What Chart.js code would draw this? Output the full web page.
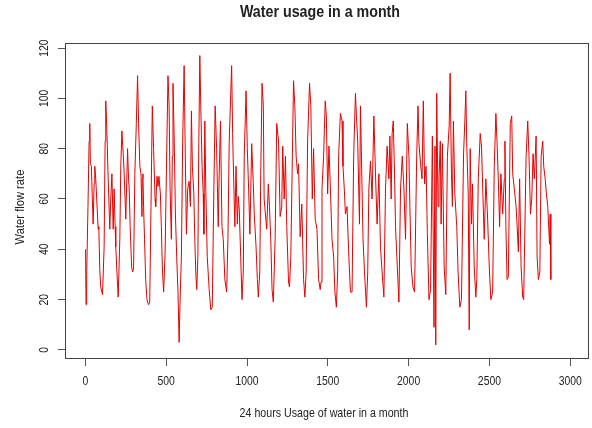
<!DOCTYPE html>
<html>
<head>
<meta charset="utf-8">
<title>Water usage in a month</title>
<script src="https://cdn.jsdelivr.net/npm/chart.js@4.4.1/dist/chart.umd.min.js"></script>
<style>
  html, body { margin: 0; padding: 0; background: #fff; }
  #wrap { width: 592px; height: 428px; }
</style>
</head>
<body>
<div id="wrap"><canvas id="waterChart" width="592" height="428"></canvas></div>
<script>
// sample number (15 min steps over the month) and the flow read at it
const sampleIndex = [
  1, 4, 8, 16, 23, 27, 31, 37, 43, 48, 54, 58, 64, 70, 79, 83, 89, 95,
  106, 116, 122, 126, 132, 141, 151, 157, 164, 172, 178, 184, 188, 195,
  203, 213, 219, 226, 234, 240, 250, 257, 261, 267, 271, 277, 286, 292,
  298, 306, 315, 323, 329, 337, 344, 350, 352, 356, 360, 366, 373, 381,
  391, 398, 406, 414, 422, 431, 435, 443, 449, 455, 464, 470, 476, 484,
  493, 501, 511, 518, 524, 532, 538, 542, 549, 557, 565, 573, 580, 586,
  594, 602, 611, 617, 625, 633, 642, 650, 656, 662, 671, 677, 683, 689,
  696, 702, 708, 714, 722, 729, 733, 739, 745, 754, 766, 776, 785, 795,
  803, 812, 822, 828, 836, 845, 853, 863, 874, 882, 890, 905, 911, 919,
  925, 932, 940, 946, 952, 961, 969, 977, 983, 994, 1002, 1010, 1018, 1029,
  1039, 1045, 1056, 1064, 1070, 1079, 1085, 1093, 1101, 1106, 1114, 1122, 1132, 1139,
  1147, 1155, 1163, 1174, 1184, 1195, 1205, 1215, 1221, 1230, 1238, 1246, 1257, 1263,
  1271, 1279, 1288, 1296, 1304, 1313, 1319, 1329, 1339, 1350, 1358, 1366, 1375, 1387,
  1395, 1404, 1412, 1422, 1433, 1443, 1453, 1458, 1464, 1474, 1484, 1491, 1499, 1507,
  1516, 1526, 1536, 1544, 1553, 1561, 1567, 1578, 1588, 1594, 1602, 1609, 1619, 1629,
  1640, 1650, 1660, 1671, 1677, 1685, 1696, 1702, 1712, 1718, 1727, 1739, 1747, 1754,
  1764, 1774, 1785, 1795, 1805, 1816, 1826, 1836, 1847, 1857, 1867, 1878, 1884, 1892,
  1898, 1905, 1913, 1919, 1930, 1940, 1950, 1961, 1971, 1981, 1992, 2002, 2008, 2016,
  2027, 2037, 2050, 2058, 2064, 2074, 2083, 2091, 2099, 2108, 2116, 2126, 2136, 2147,
  2157, 2163, 2168, 2174, 2182, 2188, 2196, 2201, 2209, 2220, 2230, 2240, 2251, 2257,
  2265, 2271, 2277, 2286, 2298, 2306, 2317, 2327, 2340, 2348, 2354, 2360, 2369, 2375,
  2381, 2389, 2395, 2406, 2416, 2422, 2431, 2443, 2451, 2460, 2468, 2478, 2489, 2499,
  2509, 2520, 2530, 2540, 2547, 2555, 2563, 2571, 2582, 2592, 2596, 2602, 2609, 2617,
  2629, 2638, 2644, 2654, 2665, 2671, 2679, 2687, 2696, 2706, 2712, 2727, 2737, 2745,
  2754, 2762, 2770, 2778, 2789, 2795, 2803, 2812, 2820, 2830, 2836, 2845, 2853, 2861,
  2872, 2876, 2880
];
const flowRate = [
  40, 18, 30, 57, 83, 90, 74, 73, 60, 50, 66, 73, 68, 60, 48, 49, 32, 25,
  22, 41, 83, 99, 89, 68, 48, 60, 70, 48, 64, 49, 41, 31,
  21, 44, 73, 87, 78, 70, 52, 70, 80, 68, 64, 49, 33, 31,
  32, 70, 90, 109, 90, 73, 70, 53, 68, 70, 57, 44, 28, 20,
  18, 19, 57, 97, 80, 60, 57, 69, 65, 69, 62, 49, 33, 23,
  38, 70, 109, 97, 64, 44, 77, 106, 86, 54, 37, 23, 3, 20,
  37, 83, 113, 83, 46, 64, 67, 57, 95, 73, 62, 44, 31, 24,
  37, 83, 117, 97, 73, 62, 46, 91, 64, 37, 24, 16, 17, 64,
  97, 80, 49, 70, 91, 49, 44, 28, 23, 44, 83, 113, 86, 64,
  49, 73, 50, 61, 56, 37, 20, 31, 77, 103, 80, 64, 46, 82,
  66, 54, 41, 28, 21, 31, 70, 106, 97, 60, 54, 48, 66, 57,
  44, 24, 19, 44, 90, 83, 53, 57, 81, 60, 77, 49, 27, 25,
  37, 70, 107, 97, 77, 70, 74, 45, 58, 28, 21, 31, 83, 106,
  97, 60, 80, 52, 48, 28, 24, 27, 64, 77, 99, 93, 62, 81,
  64, 44, 37, 23, 17, 31, 77, 94, 91, 73, 64, 54, 57, 39,
  23, 23, 77, 102, 93, 83, 50, 97, 64, 44, 31, 17, 31, 64,
  75, 60, 93, 70, 50, 70, 41, 31, 21, 64, 81, 68, 85, 60,
  86, 91, 70, 49, 33, 19, 64, 77, 64, 44, 90, 77, 57, 33,
  25, 23, 77, 97, 82, 74, 68, 99, 66, 73, 46, 20, 24, 85,
  9, 81, 2, 102, 57, 68, 83, 50, 82, 33, 22, 77, 89, 110,
  70, 57, 91, 62, 49, 31, 17, 20, 78, 91, 103, 81, 62, 8,
  80, 50, 66, 33, 21, 28, 68, 86, 81, 61, 44, 68, 52, 33,
  20, 23, 73, 94, 83, 68, 49, 70, 54, 68, 83, 49, 28, 29,
  90, 93, 70, 64, 57, 50, 39, 68, 33, 21, 20, 77, 91, 77,
  54, 60, 78, 68, 85, 37, 28, 31, 77, 83, 73, 68, 62, 57,
  42, 54, 28
];
const xTicks = [0, 500, 1000, 1500, 2000, 2500, 3000];
const yTicks = [0, 20, 40, 60, 80, 100, 120];

const chartTitle = "Water usage in a month";
const xTitle = "24 hours Usage of water in a month";
const yTitle = "Water flow rate";

const ink = "#222";
const fontName = "'Liberation Sans', Arial, sans-serif";

// the picture is a bit squashed sideways, so text is drawn narrowed
function squeezedText(ctx, text, x, y, font, squeeze, angle) {
  ctx.save();
  ctx.translate(x, y);
  ctx.rotate(angle || 0);
  ctx.scale(squeeze, 1);
  ctx.font = font;
  ctx.fillStyle = ink;
  ctx.textAlign = "center";
  ctx.textBaseline = "middle";
  ctx.fillText(text, 0, 0);
  ctx.restore();
}

// R style box, tick labels and titles
const rFrame = {
  id: "rFrame",
  afterDraw(chart) {
    const { ctx, chartArea: a, scales } = chart;
    ctx.save();
    ctx.strokeStyle = "#444";
    ctx.lineWidth = 1;
    ctx.strokeRect(a.left - 0.5, a.top - 0.5, a.right - a.left + 1, a.bottom - a.top + 1);
    ctx.restore();

    const small = "13px " + fontName;
    xTicks.forEach(v => {
      squeezedText(ctx, String(v), scales.x.getPixelForValue(v), 381, small, 0.8);
    });
    yTicks.forEach(v => {
      squeezedText(ctx, String(v), 44, scales.y.getPixelForValue(v), small, 0.8, -Math.PI / 2);
    });

    squeezedText(ctx, chartTitle, 320, 13, "bold 16px " + fontName, 0.89);
    squeezedText(ctx, xTitle, 324, 413, small, 0.82);
    squeezedText(ctx, yTitle, 20, 207, small, 0.86, -Math.PI / 2);
  }
};

new Chart(document.getElementById("waterChart"), {
  type: "line",
  data: {
    datasets: [{
      data: sampleIndex.map((x, i) => ({ x: x, y: flowRate[i] })),
      borderColor: "#e60000",
      borderWidth: 1,
      pointRadius: 0,
      tension: 0,
      fill: false
    }]
  },
  options: {
    responsive: false,
    animation: false,
    events: [],
    layout: { padding: { top: 44, right: 4, left: 0, bottom: 0 } },
    plugins: {
      legend: { display: false },
      tooltip: { enabled: false },
      title: { display: false }
    },
    scales: {
      x: {
        type: "linear",
        min: -120,
        max: 3110,
        afterBuildTicks: s => { s.ticks = xTicks.map(v => ({ value: v })); },
        afterFit: s => { s.height = 70; },
        grid: { drawOnChartArea: false, tickLength: 8, color: "#555" },
        border: { display: false },
        ticks: { display: false }
      },
      y: {
        type: "linear",
        min: -3.2,
        max: 121.6,
        afterBuildTicks: s => { s.ticks = yTicks.map(v => ({ value: v })); },
        afterFit: s => { s.width = 66; },
        grid: { drawOnChartArea: false, tickLength: 8, color: "#555" },
        border: { display: false },
        ticks: { display: false }
      }
    }
  },
  plugins: [rFrame]
});
</script>
</body>
</html>
